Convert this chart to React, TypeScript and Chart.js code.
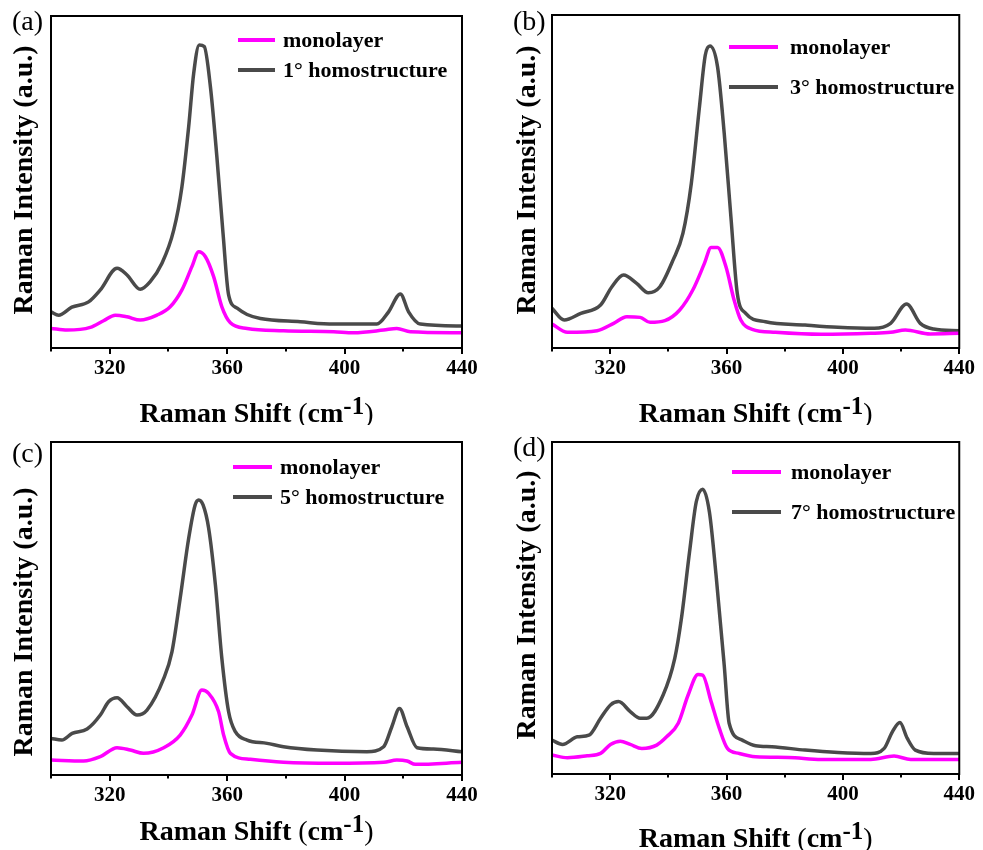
import React, { useEffect, useRef } from "react";
import { Chart, registerables } from "chart.js";

Chart.register(...registerables);

// ---------------- data ----------------
const xMin = 300;
const xMax = 440;
const xStep = 20;
const xTickLabels = [320, 360, 400, 440];
const panelLabels = ["(a)", "(b)", "(c)", "(d)"];
const monoLabel = "monolayer";
const homoLabels = ["1° homostructure", "3° homostructure", "5° homostructure", "7° homostructure"];

const monoA: [number, number][] = [
  [300, 5.9], [305.5, 5.4], [313.4, 6.2], [317.9, 8.2], [321.9, 9.9], [325.9, 9.4], [330.4, 8.4],
  [336.1, 9.9], [340.6, 12.4], [344.6, 17.5], [348.0, 24.5], [350.3, 29.0], [352.6, 27.5],
  [355.4, 21.5], [358.2, 12.4], [361.1, 7.6], [366.8, 5.9], [379.2, 5.2], [396.3, 4.9],
  [403.1, 4.6], [413.3, 5.4], [417.8, 5.9], [422.4, 4.9], [440, 4.6],
];
const homoA: [number, number][] = [
  [300, 10.9], [302.6, 9.9], [307.1, 12.3], [312.8, 13.9], [316.8, 17.5], [322.5, 24.0],
  [325.9, 22.0], [330.4, 17.7], [333.8, 20.0], [337.8, 25.5], [341.8, 35.5], [344.6, 48.6],
  [346.9, 66.7], [348.6, 82.7], [350.5, 91.3], [352.2, 90.8], [354.3, 78.7], [356.5, 57.6],
  [358.6, 34.5], [360.5, 16.0], [363.4, 12.0], [366.8, 10.1], [371.3, 8.9], [384.9, 7.9],
  [396.3, 7.2], [411.0, 7.2], [415.0, 10.9], [419.0, 16.3], [421.8, 10.9], [425.8, 7.2], [440, 6.6],
];

const monoB: [number, number][] = [
  [300, 7.2], [305.3, 4.7], [315.5, 5.2], [321.2, 7.4], [325.7, 9.4], [330.3, 9.2], [333.7, 7.7],
  [338.8, 8.2], [343.9, 11.4], [348.4, 17.4], [352.4, 25.4], [354.7, 30.2], [356.9, 30.2],
  [359.8, 24.4], [362.6, 14.4], [364.9, 8.4], [368.8, 5.6], [376.8, 4.7], [392.6, 4.1],
  [409.6, 4.4], [416.4, 4.7], [421.5, 5.4], [430.0, 4.2], [440, 4.4],
];
const homoB: [number, number][] = [
  [300, 11.9], [304.2, 8.4], [309.9, 10.4], [316.7, 12.9], [320.6, 18.4], [324.6, 21.9],
  [329.1, 19.4], [333.1, 16.6], [337.1, 18.4], [341.6, 26.4], [345.0, 34.4], [347.9, 49.5],
  [350.7, 72.5], [352.7, 88.0], [354.3, 90.7], [356.9, 84.5], [359.2, 64.5], [361.5, 39.4],
  [363.7, 16.4], [366.6, 10.4], [373.4, 7.9], [387.0, 6.9], [398.3, 6.2], [410.8, 5.9],
  [416.4, 7.4], [421.9, 13.2], [426.6, 7.4], [431.2, 5.7], [440, 5.2],
];

const monoC: [number, number][] = [
  [300, 4.5], [311.1, 4.2], [316.8, 5.5], [322.5, 8.2], [327.0, 7.5], [331.5, 6.5], [338.4, 8.2],
  [344.0, 12.0], [348.0, 18.0], [351.4, 25.5], [353.7, 24.5], [357.1, 19.0], [358.8, 12.0],
  [361.1, 6.5], [367.9, 4.7], [379.2, 3.8], [396.3, 3.5], [413.3, 3.8], [417.8, 4.5],
  [421.3, 4.2], [424.1, 3.2], [440, 3.8],
];
const homoC: [number, number][] = [
  [300, 11.0], [303.7, 10.5], [307.2, 12.5], [312.3, 13.8], [316.8, 18.0], [319.6, 22.0],
  [322.5, 23.2], [325.9, 20.5], [329.3, 18.0], [332.7, 19.5], [338.4, 29.0], [341.2, 37.0],
  [344.0, 53.1], [346.9, 71.1], [349.1, 81.1], [350.3, 82.6], [351.8, 81.1], [353.7, 74.1],
  [356.0, 57.1], [358.2, 35.0], [360.5, 19.0], [362.8, 13.0], [366.8, 10.5], [373.6, 9.5],
  [379.2, 8.5], [390.6, 7.5], [407.6, 7.0], [413.3, 8.5], [416.1, 14.5], [418.7, 20.0],
  [421.3, 14.5], [424.7, 8.2], [430.3, 7.8], [440, 7.0],
];

const monoD: [number, number][] = [
  [300, 5.7], [305.3, 4.9], [312.1, 5.5], [316.7, 6.2], [320.1, 8.9], [323.5, 9.9], [326.9, 8.9],
  [330.9, 7.7], [336.0, 8.7], [339.4, 11.2], [343.4, 15.3], [346.8, 23.8], [350.2, 30.0],
  [351.8, 29.8], [354.7, 21.8], [357.5, 13.8], [360.3, 7.7], [364.3, 6.2], [370.0, 5.2],
  [381.3, 5.0], [392.6, 4.4], [409.6, 4.4], [417.6, 5.4], [423.3, 4.4], [440, 4.4],
];
const homoD: [number, number][] = [
  [300, 10.2], [303.6, 8.9], [308.7, 11.2], [312.7, 11.7], [316.7, 16.8], [320.1, 20.8],
  [322.9, 21.8], [326.9, 18.8], [330.3, 16.8], [332.6, 16.8], [338.2, 23.8], [342.2, 34.8],
  [344.5, 46.9], [347.3, 67.0], [349.6, 82.0], [351.8, 85.8], [354.1, 79.0], [356.4, 59.9],
  [359.2, 32.8], [360.9, 15.3], [365.4, 10.2], [370.0, 8.5], [375.6, 8.2], [387.0, 7.2],
  [398.3, 6.5], [409.6, 6.2], [414.2, 7.7], [417.0, 12.7], [419.6, 15.5], [422.1, 10.8],
  [424.9, 7.2], [431.2, 6.2], [440, 6.2],
];

const monoSeries = [monoA, monoB, monoC, monoD];
const homoSeries = [homoA, homoB, homoC, homoD];

// ---------------- layout / style ----------------
const MAGENTA = "#ff00ff";
const GRAY = "#4a4a4a";
const SERIF = '"Liberation Serif", "Times New Roman", serif';

type Layout = {
  left: number; top: number; w: number; h: number;
  padL: number; padR: number; padT: number; axisH: number;
  label: [number, number];
  yTitle: [number, number];
  xTitleY: number;
  legend: { x0: number; x1: number; tx: number; rows: [number, number] };
};

const layouts: Layout[] = [
  { left: 0, top: 0, w: 491, h: 425, padL: 51, padR: 29, padT: 16, axisH: 77,
    label: [12, 30], yTitle: [25, 180], xTitleY: 422,
    legend: { x0: 238, x1: 275, tx: 283, rows: [40, 70] } },
  { left: 491, top: 0, w: 492, h: 425, padL: 61, padR: 19, padT: 15, axisH: 77,
    label: [22, 30], yTitle: [37, 180], xTitleY: 422,
    legend: { x0: 238, x1: 287, tx: 299, rows: [47, 87] } },
  { left: 0, top: 425, w: 491, h: 425, padL: 51, padR: 29, padT: 17, axisH: 75,
    label: [12, 37], yTitle: [25, 197], xTitleY: 415,
    legend: { x0: 233, x1: 272, tx: 280, rows: [42, 72] } },
  { left: 491, top: 425, w: 492, h: 425, padL: 61, padR: 19, padT: 17, axisH: 76,
    label: [22, 31], yTitle: [37, 180], xTitleY: 422,
    legend: { x0: 241, x1: 290, tx: 300, rows: [47, 87] } },
];

function makeDecor(idx: number) {
  const L = layouts[idx];
  return {
    id: "decor" + idx,
    afterDatasetsDraw(chart: any) {
      const ctx: CanvasRenderingContext2D = chart.ctx;
      const { left, right, top, bottom } = chart.chartArea;
      ctx.save();
      // frame
      ctx.strokeStyle = "#000";
      ctx.lineWidth = 2;
      ctx.strokeRect(left, top, right - left, bottom - top);
      // x ticks
      const xs = chart.scales.x;
      xs.ticks.forEach((t: any) => {
        const px = Math.round(xs.getPixelForValue(t.value));
        const major = xTickLabels.includes(t.value);
        ctx.beginPath();
        ctx.moveTo(px, bottom);
        ctx.lineTo(px, bottom + (major ? 6 : 3.5));
        ctx.stroke();
      });
      // legend
      chart.data.datasets.forEach((ds: any, i: number) => {
        const y = L.legend.rows[i];
        ctx.strokeStyle = ds.borderColor;
        ctx.lineWidth = 4;
        ctx.beginPath();
        ctx.moveTo(L.legend.x0, y);
        ctx.lineTo(L.legend.x1, y);
        ctx.stroke();
        ctx.fillStyle = "#000";
        ctx.font = `bold 22px ${SERIF}`;
        ctx.textAlign = "left";
        ctx.textBaseline = "middle";
        ctx.fillText(ds.label, L.legend.tx, y + 1);
      });
      // panel label
      ctx.fillStyle = "#000";
      ctx.font = `28px ${SERIF}`;
      ctx.textAlign = "left";
      ctx.textBaseline = "alphabetic";
      ctx.fillText(panelLabels[idx], L.label[0], L.label[1]);
      // y title
      ctx.save();
      ctx.translate(L.yTitle[0], L.yTitle[1]);
      ctx.rotate(-Math.PI / 2);
      ctx.font = `bold 28px ${SERIF}`;
      ctx.textAlign = "center";
      ctx.textBaseline = "middle";
      ctx.fillText("Raman Intensity (a.u.)", 0, 0);
      ctx.restore();
      // x title with superscript
      const parts: { t: string; f: string; dy: number }[] = [
        { t: "Raman Shift ", f: `bold 28px ${SERIF}`, dy: 0 },
        { t: "(", f: `28px ${SERIF}`, dy: 0 },
        { t: "cm", f: `bold 28px ${SERIF}`, dy: 0 },
        { t: "-1", f: `bold 25px ${SERIF}`, dy: -8 },
        { t: ")", f: `28px ${SERIF}`, dy: 0 },
      ];
      let total = 0;
      parts.forEach((p) => { ctx.font = p.f; total += ctx.measureText(p.t).width; });
      let x = (left + right) / 2 - total / 2;
      ctx.textAlign = "left";
      ctx.textBaseline = "alphabetic";
      parts.forEach((p) => {
        ctx.font = p.f;
        ctx.fillText(p.t, x, L.xTitleY + p.dy);
        x += ctx.measureText(p.t).width;
      });
      ctx.restore();
    },
  };
}

function Panel({ idx }: { idx: number }) {
  const ref = useRef<HTMLCanvasElement | null>(null);
  const L = layouts[idx];
  useEffect(() => {
    if (!ref.current) return;
    const toPts = (arr: [number, number][]) => arr.map(([x, y]) => ({ x, y }));
    const chart = new Chart(ref.current, {
      type: "line",
      data: {
        datasets: [
          {
            label: monoLabel,
            data: toPts(monoSeries[idx]),
            borderColor: MAGENTA,
            borderWidth: 3.5,
            pointRadius: 0,
            cubicInterpolationMode: "monotone",
            fill: false,
          },
          {
            label: homoLabels[idx],
            data: toPts(homoSeries[idx]),
            borderColor: GRAY,
            borderWidth: 3.5,
            pointRadius: 0,
            cubicInterpolationMode: "monotone",
            fill: false,
          },
        ],
      },
      options: {
        responsive: false,
        animation: false,
        events: [],
        layout: { padding: { left: L.padL, right: L.padR, top: L.padT, bottom: 0 } },
        plugins: { legend: { display: false }, tooltip: { enabled: false }, title: { display: false } },
        scales: {
          x: {
            type: "linear",
            min: xMin,
            max: xMax,
            grid: { display: false, drawTicks: false },
            border: { display: false },
            ticks: {
              stepSize: xStep,
              autoSkip: false,
              maxRotation: 0,
              padding: 8,
              color: "#000",
              font: { family: SERIF, weight: "bold", size: 21 },
              callback: (v: any) => (xTickLabels.includes(Number(v)) ? String(v) : ""),
            },
            afterFit: (s: any) => { s.height = L.axisH; },
          },
          y: { display: false, min: 0, max: 100 },
        },
      } as any,
      plugins: [makeDecor(idx)],
    });
    return () => chart.destroy();
  }, [idx]);
  return (
    <canvas
      ref={ref}
      width={L.w}
      height={L.h}
      style={{ position: "absolute", left: L.left, top: L.top, width: L.w, height: L.h, display: "block" }}
    />
  );
}

export default function App() {
  return (
    <div style={{ position: "absolute", left: 0, top: 0, width: 983, height: 850, background: "#fff" }}>
      {layouts.map((_, i) => (
        <Panel key={i} idx={i} />
      ))}
    </div>
  );
}
